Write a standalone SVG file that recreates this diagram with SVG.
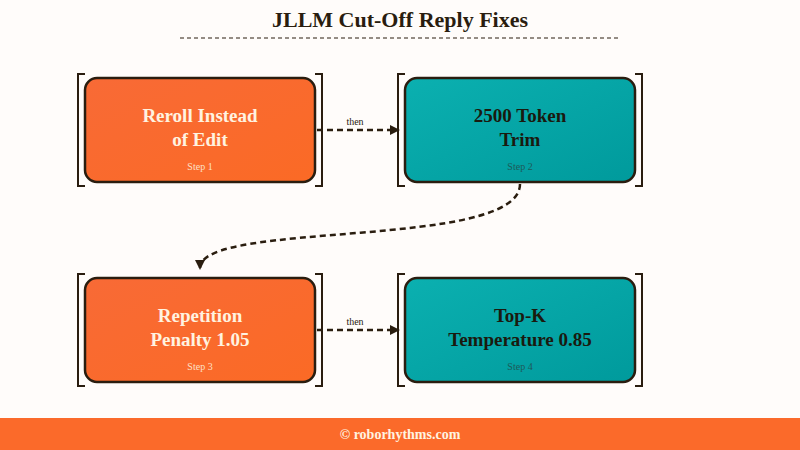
<svg xmlns="http://www.w3.org/2000/svg" width="800" height="450" viewBox="0 0 800 450">
<style>
.t{font-family:"Liberation Serif","DejaVu Serif",serif;font-weight:bold;font-size:19px;text-anchor:middle}
.s{font-family:"Liberation Serif","DejaVu Serif",serif;font-size:10px;text-anchor:middle}
.br{fill:none;stroke:#2a1d0f;stroke-width:2}
.o{fill:url(#go);stroke:#2a1d0f;stroke-width:2.5}
.c{fill:url(#gt);stroke:#2a1d0f;stroke-width:2.5}
.e{fill:none;stroke:#2a1d0f;stroke-width:2.5;stroke-dasharray:6 4}
</style>
<defs>
<linearGradient id="go" x1="0" y1="0" x2="1" y2="1"><stop offset="0" stop-color="#f86a36"/><stop offset="1" stop-color="#fb6a25"/></linearGradient>
<linearGradient id="gt" x1="0" y1="0" x2="1" y2="1"><stop offset="0" stop-color="#0bb0b0"/><stop offset="1" stop-color="#009a9c"/></linearGradient>
<marker id="a" markerWidth="10" markerHeight="10" refX="8" refY="5" orient="auto" markerUnits="userSpaceOnUse"><path d="M0,0 L10,5 L0,10 z" fill="#2a1d0f"/></marker>
</defs>
<rect width="800" height="450" fill="#fffcfa"/>
<text x="400" y="27" style="font-family:'Liberation Serif','DejaVu Serif',serif;font-weight:bold;font-size:22px;text-anchor:middle" fill="#2a1d0f">JLLM Cut-Off Reply Fixes</text>
<line x1="180" y1="38" x2="618" y2="38" stroke="#2a1d0f" stroke-width="1" stroke-dasharray="4 3"/>
<g id="connectors">
<path class="e" d="M317,130 L398,130" marker-end="url(#a)"/>
<text x="355" y="125" class="s" fill="#2a1d0f">then</text>
<path class="e" d="M520,184 C520,250 200,220 200,268" marker-end="url(#a)"/>
<path class="e" d="M317,330 L398,330" marker-end="url(#a)"/>
<text x="355" y="325" class="s" fill="#2a1d0f">then</text>
</g>
<g id="n1">
<path class="br" d="M85,74 H78 V186 H85 M315,74 H322 V186 H315"/>
<rect class="o" x="85" y="78" width="230" height="104" rx="12"/>
<text x="200" y="122" class="t" fill="#fff3e0">Reroll Instead</text>
<text x="200" y="146" class="t" fill="#fff3e0">of Edit</text>
<text x="200" y="170" class="s" fill="#fde0c8">Step 1</text>
</g>
<g id="n2">
<path class="br" d="M405,74 H398 V186 H405 M635,74 H642 V186 H635"/>
<rect class="c" x="405" y="78" width="230" height="104" rx="12"/>
<text x="520" y="122" class="t" fill="#1a1a0f">2500 Token</text>
<text x="520" y="146" class="t" fill="#1a1a0f">Trim</text>
<text x="520" y="170" class="s" fill="#1d5a58">Step 2</text>
</g>
<g id="n3">
<path class="br" d="M85,274 H78 V386 H85 M315,274 H322 V386 H315"/>
<rect class="o" x="85" y="278" width="230" height="104" rx="12"/>
<text x="200" y="322" class="t" fill="#fff3e0">Repetition</text>
<text x="200" y="346" class="t" fill="#fff3e0">Penalty 1.05</text>
<text x="200" y="370" class="s" fill="#fde0c8">Step 3</text>
</g>
<g id="n4">
<path class="br" d="M405,274 H398 V386 H405 M635,274 H642 V386 H635"/>
<rect class="c" x="405" y="278" width="230" height="104" rx="12"/>
<text x="520" y="322" class="t" fill="#1a1a0f">Top-K</text>
<text x="520" y="346" class="t" fill="#1a1a0f">Temperature 0.85</text>
<text x="520" y="370" class="s" fill="#1d5a58">Step 4</text>
</g>
<rect x="0" y="418" width="800" height="32" fill="#fb6a2a"/>
<text x="400" y="439" style="font-family:'Liberation Serif','DejaVu Serif',serif;font-weight:bold;font-size:14px;text-anchor:middle" fill="#fff3e0">© roborhythms.com</text>
</svg>
